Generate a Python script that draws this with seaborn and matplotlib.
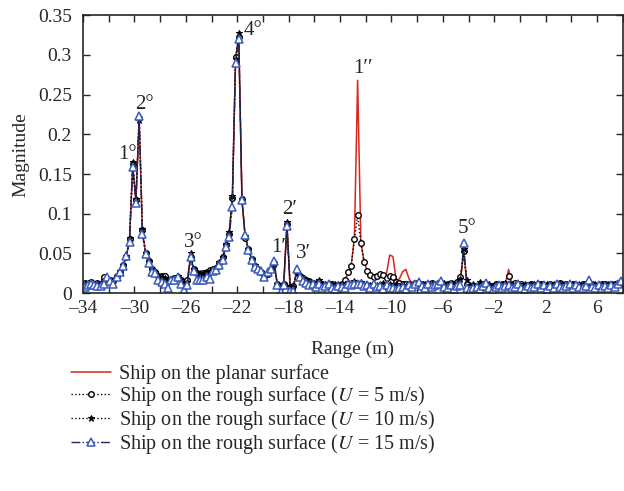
import numpy as np
import pandas as pd
import matplotlib
matplotlib.use("Agg")
import matplotlib.pyplot as plt
import seaborn as sns
from matplotlib.ticker import MultipleLocator, FuncFormatter

# range samples (m): uniform grid, 0.25 m apart
range_m = np.arange(168) * 0.25 - 33.88

planar = [
    0.012, 0.012, 0.013, 0.012, 0.012, 0.012, 0.017, 0.019, 0.016, 0.015,
    0.021, 0.027, 0.035, 0.046, 0.068, 0.160, 0.116, 0.220, 0.079, 0.050,
    0.039, 0.030, 0.026, 0.022, 0.020, 0.019, 0.017, 0.018, 0.019, 0.020,
    0.016, 0.011, 0.015, 0.046, 0.029, 0.025, 0.024, 0.025, 0.026, 0.028,
    0.030, 0.032, 0.038, 0.045, 0.060, 0.075, 0.118, 0.294, 0.323, 0.117,
    0.071, 0.055, 0.043, 0.034, 0.030, 0.027, 0.022, 0.025, 0.030, 0.038,
    0.011, 0.008, 0.012, 0.086, 0.008, 0.008, 0.026, 0.021, 0.018, 0.016,
    0.014, 0.012, 0.011, 0.012, 0.010, 0.009, 0.011, 0.010, 0.008, 0.009,
    0.011, 0.015, 0.025, 0.035, 0.070, 0.268, 0.065, 0.040, 0.028, 0.022,
    0.020, 0.020, 0.022, 0.021, 0.025, 0.048, 0.046, 0.016, 0.018, 0.027,
    0.030, 0.018, 0.012, 0.011, 0.012, 0.010, 0.011, 0.012, 0.010, 0.011,
    0.011, 0.012, 0.011, 0.010, 0.012, 0.011, 0.013, 0.018, 0.050, 0.015,
    0.008, 0.009, 0.007, 0.010, 0.008, 0.010, 0.009, 0.008, 0.011, 0.010,
    0.010, 0.012, 0.030, 0.011, 0.012, 0.010, 0.011, 0.009, 0.010, 0.011,
    0.010, 0.011, 0.010, 0.009, 0.010, 0.011, 0.010, 0.011, 0.012, 0.010,
    0.010, 0.011, 0.011, 0.010, 0.010, 0.011, 0.012, 0.012, 0.010, 0.010,
    0.010, 0.011, 0.011, 0.010, 0.011, 0.011, 0.012, 0.012,
]

rough_u5 = [
    0.013, 0.012, 0.014, 0.012, 0.013, 0.012, 0.020, 0.018, 0.016, 0.015,
    0.021, 0.027, 0.035, 0.046, 0.068, 0.162, 0.117, 0.221, 0.080, 0.050,
    0.040, 0.030, 0.026, 0.022, 0.021, 0.021, 0.017, 0.018, 0.019, 0.020,
    0.016, 0.012, 0.016, 0.045, 0.030, 0.025, 0.024, 0.025, 0.027, 0.029,
    0.030, 0.032, 0.038, 0.045, 0.060, 0.074, 0.120, 0.297, 0.322, 0.118,
    0.070, 0.055, 0.043, 0.034, 0.030, 0.027, 0.022, 0.024, 0.030, 0.038,
    0.011, 0.008, 0.012, 0.087, 0.008, 0.009, 0.027, 0.022, 0.019, 0.016,
    0.015, 0.013, 0.012, 0.014, 0.011, 0.010, 0.012, 0.011, 0.009, 0.010,
    0.012, 0.016, 0.027, 0.034, 0.068, 0.098, 0.063, 0.039, 0.028, 0.023,
    0.020, 0.021, 0.024, 0.023, 0.019, 0.022, 0.020, 0.014, 0.013, 0.012,
    0.011, 0.012, 0.010, 0.013, 0.011, 0.012, 0.010, 0.011, 0.013, 0.012,
    0.012, 0.013, 0.010, 0.011, 0.013, 0.012, 0.014, 0.020, 0.053, 0.012,
    0.008, 0.009, 0.007, 0.010, 0.008, 0.011, 0.009, 0.008, 0.012, 0.010,
    0.011, 0.012, 0.021, 0.010, 0.013, 0.011, 0.012, 0.009, 0.010, 0.011,
    0.010, 0.012, 0.011, 0.009, 0.010, 0.012, 0.010, 0.011, 0.013, 0.010,
    0.011, 0.010, 0.012, 0.010, 0.009, 0.011, 0.012, 0.010, 0.011, 0.009,
    0.010, 0.012, 0.011, 0.010, 0.012, 0.011, 0.013, 0.012,
]

rough_u10 = [
    0.012, 0.013, 0.012, 0.011, 0.012, 0.013, 0.016, 0.019, 0.017, 0.016,
    0.022, 0.028, 0.036, 0.047, 0.070, 0.165, 0.119, 0.218, 0.081, 0.051,
    0.040, 0.031, 0.027, 0.023, 0.020, 0.019, 0.017, 0.018, 0.019, 0.021,
    0.017, 0.011, 0.014, 0.050, 0.030, 0.026, 0.025, 0.024, 0.026, 0.028,
    0.031, 0.033, 0.039, 0.046, 0.062, 0.077, 0.122, 0.295, 0.327, 0.117,
    0.072, 0.056, 0.043, 0.035, 0.031, 0.027, 0.023, 0.025, 0.030, 0.037,
    0.012, 0.009, 0.011, 0.089, 0.009, 0.008, 0.025, 0.021, 0.018, 0.017,
    0.014, 0.012, 0.013, 0.016, 0.012, 0.011, 0.013, 0.010, 0.011, 0.012,
    0.011, 0.012, 0.014, 0.013, 0.015, 0.013, 0.014, 0.012, 0.011, 0.010,
    0.012, 0.010, 0.011, 0.013, 0.009, 0.012, 0.010, 0.011, 0.009, 0.010,
    0.009, 0.011, 0.010, 0.012, 0.010, 0.011, 0.012, 0.010, 0.011, 0.009,
    0.011, 0.012, 0.013, 0.010, 0.012, 0.011, 0.013, 0.018, 0.056, 0.016,
    0.010, 0.012, 0.008, 0.014, 0.009, 0.010, 0.012, 0.008, 0.011, 0.009,
    0.010, 0.013, 0.012, 0.011, 0.010, 0.012, 0.009, 0.011, 0.010, 0.012,
    0.011, 0.010, 0.012, 0.010, 0.011, 0.009, 0.012, 0.010, 0.011, 0.012,
    0.010, 0.012, 0.011, 0.009, 0.012, 0.010, 0.011, 0.013, 0.010, 0.011,
    0.011, 0.010, 0.012, 0.011, 0.010, 0.012, 0.011, 0.013,
]

rough_u15 = [
    0.008, 0.010, 0.011, 0.010, 0.009, 0.009, 0.012, 0.020, 0.015, 0.012,
    0.020, 0.026, 0.034, 0.047, 0.064, 0.159, 0.114, 0.223, 0.075, 0.049,
    0.038, 0.027, 0.025, 0.016, 0.014, 0.012, 0.007, 0.016, 0.016, 0.020,
    0.012, 0.004, 0.010, 0.045, 0.028, 0.016, 0.017, 0.016, 0.020, 0.018,
    0.028, 0.029, 0.035, 0.042, 0.058, 0.071, 0.108, 0.290, 0.320, 0.117,
    0.073, 0.054, 0.042, 0.033, 0.030, 0.028, 0.020, 0.026, 0.031, 0.041,
    0.010, 0.001, 0.010, 0.084, 0.003, 0.003, 0.030, 0.020, 0.015, 0.013,
    0.010, 0.012, 0.008, 0.011, 0.006, 0.009, 0.012, 0.007, 0.005, 0.009,
    0.008, 0.007, 0.011, 0.010, 0.012, 0.011, 0.012, 0.009, 0.010, 0.006,
    0.012, 0.008, 0.009, 0.005, 0.010, 0.007, 0.006, 0.004, 0.006, 0.008,
    0.005, 0.010, 0.008, 0.011, 0.014, 0.009, 0.007, 0.012, 0.008, 0.010,
    0.012, 0.015, 0.008, 0.006, 0.010, 0.005, 0.009, 0.010, 0.063, 0.006,
    0.004, 0.006, 0.008, 0.005, 0.009, 0.013, 0.006, 0.004, 0.008, 0.010,
    0.007, 0.009, 0.010, 0.006, 0.008, 0.011, 0.007, 0.005, 0.009, 0.006,
    0.008, 0.012, 0.006, 0.010, 0.005, 0.009, 0.007, 0.012, 0.008, 0.006,
    0.009, 0.011, 0.007, 0.010, 0.008, 0.006, 0.009, 0.016, 0.008, 0.006,
    0.010, 0.007, 0.009, 0.006, 0.010, 0.008, 0.012, 0.015,
]

peak_labels = ["1°", "2°", "3°", "4°", "1′", "2′", "3′", "1′′", "5°"]
peak_x = [-30.5, -29.2, -25.45, -20.75, -18.75, -17.9, -16.85, -12.2, -4.1]
peak_y = [0.174, 0.237, 0.064, 0.331, 0.057, 0.105, 0.050, 0.283, 0.081]

df = pd.DataFrame({
    "range": range_m,
    "planar": planar,
    "u5": rough_u5,
    "u10": rough_u10,
    "u15": rough_u15,
})

sns.set_style("ticks")
plt.rcParams["font.family"] = ["Liberation Serif", "DejaVu Serif"]
plt.rcParams["mathtext.fontset"] = "stix"

fig = plt.figure(figsize=(6.24, 4.91), dpi=100)
ax = fig.add_axes([0.133, 0.403, 0.865, 0.566])

sns.lineplot(data=df, x="range", y="planar", ax=ax, color="#d9261c",
             linewidth=1.1, label="Ship on the planar surface")
sns.lineplot(data=df, x="range", y="u5", ax=ax, color="black",
             linestyle=":", linewidth=1.0, marker="o", markersize=4,
             markerfacecolor="white", markeredgecolor="black",
             markeredgewidth=1.0,
             label=r"Ship on the rough surface ($U$ = 5 m/s)")
sns.lineplot(data=df, x="range", y="u10", ax=ax, color="black",
             linestyle=":", linewidth=1.0, marker="*", markersize=4.5,
             markerfacecolor="black", markeredgecolor="black",
             label=r"Ship on the rough surface ($U$ = 10 m/s)")
sns.lineplot(data=df, x="range", y="u15", ax=ax, color="#1b2a5e",
             linestyle="-.", linewidth=1.0, marker="^", markersize=5.5,
             markerfacecolor="white", markeredgecolor="#3a5bbf",
             markeredgewidth=1.1,
             label=r"Ship on the rough surface ($U$ = 15 m/s)")

for lab, px, py in zip(peak_labels, peak_x, peak_y):
    ax.text(px, py, lab, ha="center", va="center", fontsize=15)


def fmt_num(v, pos):
    s = "%g" % v
    return s.replace("-", "\u2013")


ax.set_xlim(-34, 8)
ax.set_ylim(0, 0.35)
ax.set_xticks(np.arange(-34, 8, 4))
ax.xaxis.set_minor_locator(MultipleLocator(2))
ax.yaxis.set_major_locator(MultipleLocator(0.05))
ax.yaxis.set_major_formatter(FuncFormatter(fmt_num))
ax.xaxis.set_major_formatter(FuncFormatter(fmt_num))
ax.tick_params(which="both", direction="in", top=True, right=True,
               labelsize=14, length=5, width=1)
ax.tick_params(axis="x", pad=5)
ax.tick_params(axis="y", pad=8)
for s in ax.spines.values():
    s.set_linewidth(1.2)

ax.set_xlabel("Range (m)", fontsize=14, labelpad=17)
ax.set_ylabel("Magnitude", fontsize=14, labelpad=6)

handles, labels = ax.get_legend_handles_labels()
ax.get_legend().remove()
fig.legend(handles, labels, loc="upper left", bbox_to_anchor=(0.114, 0.258),
           frameon=False, fontsize=14.5, handlelength=2.0, handletextpad=0.4,
           labelspacing=0.0, borderpad=0, borderaxespad=0)

fig.savefig("out.png", dpi=100)
